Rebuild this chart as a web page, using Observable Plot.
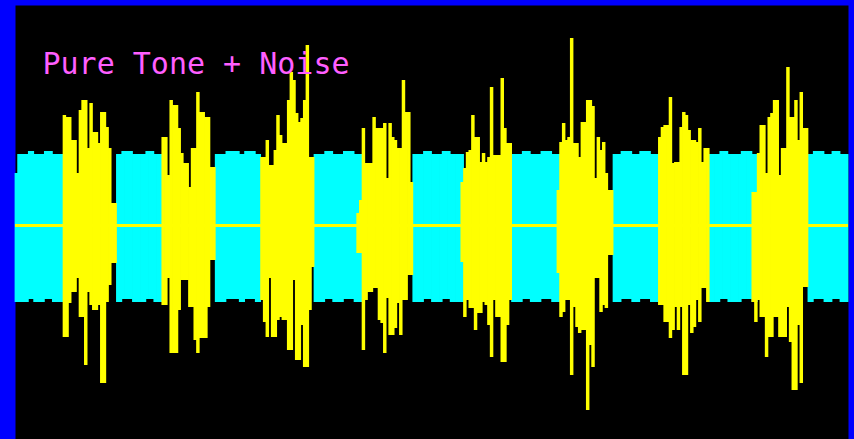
<!DOCTYPE html>
<html>
<head>
<meta charset="utf-8">
<script src="https://cdn.jsdelivr.net/npm/d3@7"></script>
<script src="https://cdn.jsdelivr.net/npm/@observablehq/plot@0.6"></script>
<style>
  html, body { margin: 0; padding: 0; background: #0000ff; }
  svg { display: block; }
</style>
</head>
<body>
<div id="chart"></div>
<script>
// ---- Data (x = sample index, y = amplitude, tone ≈ ±72) ----
const title = "Pure Tone + Noise";
const sampleCount = 312;

// pure tone band (visible between the noise bursts)
const toneTop = 71, toneBottom = -77;          // base level of the tone envelope
const toneBumpTop = 74, toneBumpBottom = -74;  // slightly shifted samples
const toneFirstTop = 52;                       // first (partial) sample
const toneBumpStart = [5, 11, 40, 49, 79, 86, 116, 123, 153, 160, 190, 197, 227, 234, 264, 272, 299, 306];
const toneBumpEnd   = [7, 14, 44, 52, 84, 90, 119, 127, 156, 163, 193, 201, 231, 238, 267, 276, 303, 309];

// noise bursts: start sample, leading samples where the tone still shows, then upper / lower extent per sample
const burstStart = [18, 55, 92, 128, 167, 203, 241, 276];
const burstToneLead = [0, 0, 0, 2, 1, 1, 0, 2];

const burst1Top = [110,108,108,85,85,52,115,125,125,77,122,93,93,82,113,113,98,77,22,22];
const burst1Bot = [-112,-112,-78,-67,-67,-53,-92,-92,-140,-67,-80,-85,-85,-80,-158,-158,-77,-60,-38,-38];

const burst2Top = [88,88,50,125,120,120,97,72,62,62,38,77,77,133,113,113,108,108,58,58];
const burst2Bot = [-80,-80,-53,-128,-128,-128,-85,-55,-55,-55,-82,-82,-115,-128,-113,-113,-113,-82,-35,-35];

const burst3Top = [68,68,85,60,60,75,110,90,82,82,125,153,145,112,103,107,125,180,68,68];
const burst3Bot = [-75,-97,-112,-53,-112,-112,-95,-92,-95,-95,-125,-125,-55,-135,-135,-100,-142,-142,-85,-42];

const burst4Top = [12,25,97,62,62,62,108,97,97,97,102,47,102,88,85,77,77,145,113,113,43];
const burst4Bot = [-28,-28,-125,-75,-67,-67,-63,-63,-95,-98,-128,-73,-110,-110,-103,-78,-110,-75,-75,-50,-50];

const burst5Top = [43,57,73,75,110,88,88,63,72,63,68,138,70,70,70,147,97,82,82];
const burst5Bot = [-37,-92,-75,-83,-83,-105,-88,-88,-77,-80,-100,-132,-75,-92,-92,-137,-137,-100,-75];

const burst6Top = [35,83,102,85,88,187,82,82,68,103,103,125,125,119,47,88,75,83,52,35,35];
const burst6Bot = [-48,-92,-87,-75,-75,-150,-82,-102,-108,-105,-105,-185,-120,-142,-53,-53,-87,-80,-83,-30,-30];

const burst7Top = [88,98,100,100,128,62,63,63,98,113,110,95,85,85,83,97,63,77,77];
const burst7Bot = [-80,-80,-97,-97,-113,-105,-82,-105,-82,-150,-150,-80,-108,-102,-75,-97,-63,-63,-77];

const burst8Top = [33,33,72,100,100,52,108,112,125,125,50,77,77,158,108,108,125,85,133,97,97];
const burst8Bot = [-77,-97,-75,-92,-92,-132,-112,-112,-92,-92,-112,-112,-112,-82,-117,-165,-165,-100,-158,-62,-62];

// ---- Build tables ----
const burstTops = [burst1Top, burst2Top, burst3Top, burst4Top, burst5Top, burst6Top, burst7Top, burst8Top];
const burstBots = [burst1Bot, burst2Bot, burst3Bot, burst4Bot, burst5Bot, burst6Bot, burst7Bot, burst8Bot];
const noise = [];
const hidesTone = new Set();
burstStart.forEach((s, b) => {
  burstTops[b].forEach((t, i) => {
    noise.push({s0: s + i, s1: s + i + 1, top: t, bottom: burstBots[b][i]});
    if (i >= burstToneLead[b]) hidesTone.add(s + i);
  });
});

const isBump = s => toneBumpStart.some((b0, i) => s >= b0 && s < toneBumpEnd[i]);
const tone = [];
for (let s = 0; s < sampleCount; s++) {
  if (hidesTone.has(s)) continue;
  const bump = isBump(s);
  tone.push({
    s0: s, s1: s + 1,
    top: s === 0 ? toneFirstTop : bump ? toneBumpTop : toneTop,
    bottom: bump ? toneBumpBottom : toneBottom
  });
}

// ---- Chart ----
const chart = Plot.plot({
  width: 854,
  height: 439,
  marginLeft: 15,
  marginRight: 6,
  marginTop: 5,
  marginBottom: 0,
  x: {domain: [0, sampleCount], axis: null},
  y: {domain: [-214, 220], axis: null},
  style: {background: "#0000ff"},
  marks: [
    Plot.frame({fill: "#000000", stroke: null}),
    Plot.rect(tone, {x1: "s0", x2: "s1", y1: "bottom", y2: "top", fill: "#00ffff", insetLeft: -0.4, insetRight: -0.4}),
    Plot.ruleY([0], {stroke: "#ffff00", strokeWidth: 3}),
    Plot.rect(noise, {x1: "s0", x2: "s1", y1: "bottom", y2: "top", fill: "#ffff00", insetLeft: -0.4, insetRight: -0.4}),
    Plot.text([title], {
      frameAnchor: "top-left", dx: 27, dy: 68, lineAnchor: "bottom", textAnchor: "start",
      fill: "#ff5fff", fontSize: 30, fontFamily: "DejaVu Sans Mono"
    })
  ]
});
document.getElementById("chart").appendChild(chart);
</script>
</body>
</html>
